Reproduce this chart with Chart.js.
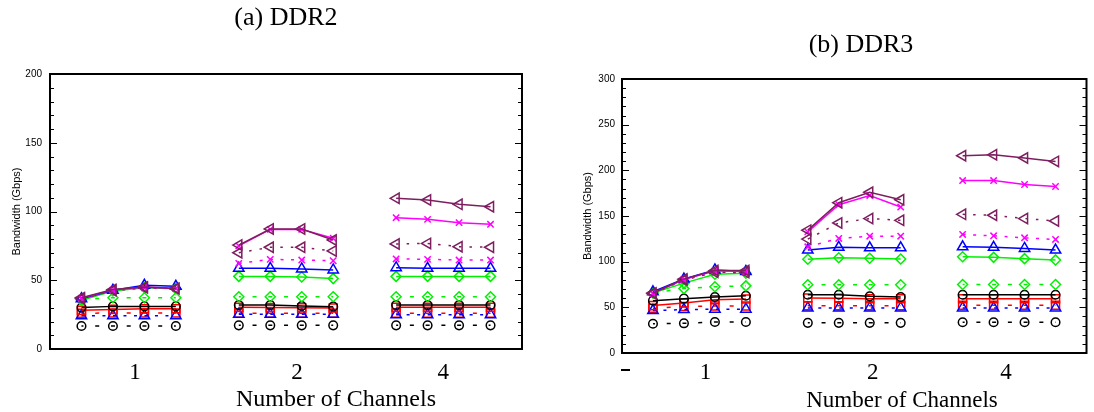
<!DOCTYPE html>
<html>
<head>
<meta charset="utf-8">
<script src="https://cdn.jsdelivr.net/npm/chart.js@4.4.1/dist/chart.umd.min.js"></script>
<style>
  html, body { margin: 0; padding: 0; background: #fff; }
  #wrap { position: relative; width: 1094px; height: 412px; overflow: hidden; }
  .panel { position: absolute; top: 0; width: 547px; height: 412px; }
  .txt { position: absolute; font-family: "Liberation Serif", "Times New Roman", serif; color: #000;
         white-space: nowrap; line-height: 1; transform: translateX(-50%); }
  .dash { position: absolute; background: #000; }
</style>
</head>
<body>
<div id="wrap">
  <div class="panel" style="left:0"><canvas id="ddr2"></canvas></div>
  <div class="panel" style="left:547px"><canvas id="ddr3"></canvas></div>
  <div class="txt" style="left:286px; top:4px; font-size:26px">(a) DDR2</div>
  <div class="txt" style="left:861px; top:31px; font-size:26px">(b) DDR3</div>
  <div class="txt" style="left:336px; top:386px; font-size:24px">Number of Channels</div>
  <div class="txt" style="left:902px; top:388px; font-size:23px">Number of Channels</div>
  <div class="dash" style="left:621px; top:369px; width:9px; height:2px"></div>
</div>
<script>
// Channel groups on the x axis; each group holds four configurations.
const channelLabels = ['1', '2', '4'];
const configsPerGroup = 4;

// DDR2 bandwidth (Gbps): 4 configurations x (1, 2, 4 channels)
const ddr2A1 = [37.3, 43.2, 45.1, 44.0, 75.6, 87.3, 87.3, 79.3, 109.6, 108.4, 105.2, 103.5];
const ddr2B1 = [37.0, 43.0, 45.0, 44.0, 75.0, 87.0, 87.0, 80.5, 95.5, 94.3, 91.9, 90.7];
const ddr2A2 = [36.5, 42.5, 44.5, 44.0, 70.0, 74.0, 74.0, 71.3, 76.4, 76.8, 74.4, 74.0];
const ddr2B2 = [36.5, 42.5, 44.5, 44.0, 62.3, 65.2, 64.7, 64.2, 65.5, 65.2, 64.7, 64.7];
const ddr2C1 = [36.6, 42.7, 46.3, 45.6, 58.7, 58.7, 58.2, 57.5, 59.1, 58.7, 58.7, 58.7];
const ddr2D1 = [35.4, 42.2, 44.6, 43.9, 52.8, 52.8, 52.4, 51.2, 52.8, 52.8, 52.8, 52.8];
const ddr2D2 = [36.0, 37.3, 37.3, 37.3, 38.0, 38.0, 38.0, 38.0, 38.0, 38.0, 38.0, 38.0];
const ddr2E1 = [30.1, 31.0, 31.0, 31.0, 32.0, 32.0, 31.3, 30.8, 32.0, 32.0, 32.0, 32.0];
const ddr2F1 = [28.1, 28.8, 29.3, 29.3, 30.3, 30.2, 30.0, 29.8, 30.3, 30.3, 30.3, 30.3];
const ddr2C2 = [24.2, 24.2, 24.2, 24.2, 25.2, 25.2, 25.2, 25.2, 25.0, 25.0, 25.0, 25.0];
const ddr2F2 = [26.0, 26.2, 26.2, 26.2, 26.0, 26.0, 26.0, 26.0, 26.0, 26.0, 26.0, 26.0];
const ddr2E2 = [16.7, 16.7, 16.7, 16.7, 17.2, 17.2, 17.2, 17.2, 17.2, 17.2, 17.2, 17.2];

// DDR3 bandwidth (Gbps)
const ddr3A1 = [65.7, 80.9, 90.3, 90.3, 134.5, 164.6, 176.0, 167.8, 216.0, 217.0, 213.5, 209.8];
const ddr3B1 = [65.5, 80.5, 90.0, 89.5, 132.6, 162.4, 172.5, 159.8, 188.8, 188.8, 184.5, 182.3];
const ddr3A2 = [65.0, 80.0, 88.5, 88.0, 124.7, 142.4, 147.2, 145.3, 151.8, 150.8, 147.2, 144.6];
const ddr3B2 = [65.0, 80.0, 88.5, 88.0, 116.3, 125.4, 127.9, 127.9, 129.8, 128.3, 126.1, 124.3];
const ddr3C1 = [67.0, 81.0, 91.0, 89.3, 112.7, 115.7, 115.2, 115.2, 116.3, 115.7, 114.5, 112.7];
const ddr3D1 = [65.7, 76.5, 86.3, 87.4, 102.6, 104.3, 103.7, 102.9, 105.4, 104.7, 103.3, 101.9];
const ddr3D2 = [66.0, 70.5, 72.5, 73.5, 74.7, 74.7, 74.7, 74.7, 75.0, 75.0, 75.0, 75.0];
const ddr3E1 = [57.3, 59.5, 61.3, 62.7, 63.8, 63.8, 62.0, 61.3, 63.8, 63.8, 63.8, 63.8];
const ddr3F1 = [51.9, 54.8, 58.4, 59.1, 60.2, 60.0, 59.5, 59.3, 59.5, 59.5, 59.5, 59.5];
const ddr3C2 = [46.5, 47.5, 48.0, 48.0, 49.3, 49.3, 49.3, 49.3, 49.3, 49.3, 49.3, 49.3];
const ddr3F2 = [49.0, 51.0, 51.5, 51.5, 51.8, 51.8, 51.8, 51.8, 52.2, 52.2, 52.2, 52.2];
const ddr3E2 = [32.0, 32.5, 34.0, 34.0, 33.0, 33.0, 33.0, 33.0, 33.7, 33.7, 33.7, 33.7];

const ddr2Series = { A1: ddr2A1, B1: ddr2B1, A2: ddr2A2, B2: ddr2B2, C1: ddr2C1, D1: ddr2D1,
                     D2: ddr2D2, E1: ddr2E1, F1: ddr2F1, C2: ddr2C2, F2: ddr2F2, E2: ddr2E2 };
const ddr3Series = { A1: ddr3A1, B1: ddr3B1, A2: ddr3A2, B2: ddr3B2, C1: ddr3C1, D1: ddr3D1,
                     D2: ddr3D2, E1: ddr3E1, F1: ddr3F1, C2: ddr3C2, F2: ddr3F2, E2: ddr3E2 };

// Line/marker styles; the first entry is drawn on top.
const PURPLE = '#7d1e5e', MAGENTA = '#ff00ff', BLUE = '#0000ff', GREEN = '#00f000', RED = '#ff0000', BLACK = '#000000';
const seriesStyles = [
  { key: 'A1', color: PURPLE,  point: 'triangle', rot: 270, r: 6,   dash: [] },
  { key: 'B1', color: MAGENTA, point: 'crossRot', rot: 0,   r: 4.5, dash: [] },
  { key: 'A2', color: PURPLE,  point: 'triangle', rot: 270, r: 6,   dash: [2.5, 8] },
  { key: 'B2', color: MAGENTA, point: 'crossRot', rot: 0,   r: 4.5, dash: [3, 7.5] },
  { key: 'C1', color: BLUE,    point: 'triangle', rot: 0,   r: 6,   dash: [] },
  { key: 'D1', color: GREEN,   point: 'rectRot',  rot: 0,   r: 5,   dash: [] },
  { key: 'D2', color: GREEN,   point: 'rectRot',  rot: 0,   r: 5,   dash: [4, 11.75], off: 2 },
  { key: 'E1', color: BLACK,   point: 'circle',   rot: 0,   r: 4.3, dash: [] },
  { key: 'F1', color: RED,     point: 'rect',     rot: 0,   r: 5.7, dash: [] },
  { key: 'C2', color: BLUE,    point: 'triangle', rot: 0,   r: 6,   dash: [3, 7.5] },
  { key: 'F2', color: RED,     point: 'rect',     rot: 0,   r: 5.7, dash: [4, 11.75], off: 2 },
  { key: 'E2', color: BLACK,   point: 'circle',   rot: 0,   r: 4.3, dash: [4, 11.75], off: 2 }
];

// Place each configuration on a linear x axis, leaving an empty slot between channel groups.
function toPoints(values) {
  const pts = [];
  values.forEach((v, i) => {
    const g = Math.floor(i / configsPerGroup), k = i % configsPerGroup;
    const base = g * (configsPerGroup + 1);
    if (k === 0 && g > 0) pts.push({ x: base - 1, y: null });
    pts.push({ x: base + k, y: v });
  });
  return pts;
}

// Closed frame plus inward major/minor ticks on both vertical sides.
const frameTicks = {
  id: 'frameTicks',
  afterDatasetsDraw(chart) {
    const { ctx, chartArea: a, scales: { y } } = chart;
    ctx.save();
    ctx.strokeStyle = '#000';
    ctx.lineWidth = 1;
    ctx.beginPath();
    for (let v = y.min; v <= y.max; v += 10) {
      const py = Math.round(y.getPixelForValue(v)) + 0.5;
      const len = v % 50 === 0 ? 7 : 4;
      ctx.moveTo(a.left, py); ctx.lineTo(a.left + len, py);
      ctx.moveTo(a.right, py); ctx.lineTo(a.right - len, py);
    }
    ctx.stroke();
    ctx.lineWidth = 2;
    ctx.strokeRect(a.left, a.top, a.right - a.left, a.bottom - a.top);
    ctx.restore();
  }
};

function makeChart(id, series, yMax, cfg) {
  return new Chart(document.getElementById(id), {
    type: 'line',
    data: {
      datasets: seriesStyles.map(s => ({
        data: toPoints(series[s.key]),
        borderColor: s.color,
        backgroundColor: 'rgba(0,0,0,0)',
        borderWidth: 1.5,
        borderDash: s.dash,
        borderDashOffset: s.off || 0,
        pointStyle: s.point,
        rotation: s.rot,
        pointRadius: s.r,
        pointBorderWidth: 1.5,
        pointBorderColor: s.color,
        pointBackgroundColor: 'rgba(0,0,0,0)',
        tension: 0,
        spanGaps: false,
        fill: false
      }))
    },
    options: {
      responsive: true,
      maintainAspectRatio: false,
      animation: false,
      events: [],
      layout: { padding: cfg.padding },
      plugins: { legend: { display: false }, tooltip: { enabled: false } },
      scales: {
        x: {
          type: 'linear', min: -1, max: 14,
          grid: { display: false, drawTicks: false }, border: { display: false },
          afterBuildTicks: sc => { sc.ticks = cfg.labelAt.map(v => ({ value: v })); },
          afterFit: sc => { sc.height = 50; },
          ticks: {
            autoSkip: false, maxRotation: 0, padding: cfg.xPad, color: '#000',
            font: { family: '"Liberation Serif", "Times New Roman", serif', size: 23 },
            callback: (v, i) => channelLabels[i]
          }
        },
        y: {
          min: 0, max: yMax,
          grid: { display: false, drawTicks: false }, border: { display: false },
          afterFit: sc => { sc.width = cfg.yWidth; },
          ticks: {
            stepSize: 50, padding: cfg.yPad, color: '#000',
            font: { family: '"Liberation Sans", Arial, sans-serif', size: 10 }
          },
          title: {
            display: true, text: 'Bandwidth (Gbps)', color: '#000',
            font: { family: '"Liberation Sans", Arial, sans-serif', size: 11 },
            padding: { top: cfg.titlePad, bottom: 0 }
          }
        }
      }
    },
    plugins: [frameTicks]
  });
}

makeChart('ddr2', ddr2Series, 200, {
  padding: { left: 0, right: 25, top: 74, bottom: 13 },
  yWidth: 50, yPad: 8, xPad: 10, titlePad: 10,
  labelAt: [1.7, 6.85, 11.5]
});
makeChart('ddr3', ddr3Series, 300, {
  padding: { left: 25, right: 3, top: 79, bottom: 9 },
  yWidth: 50, yPad: 7, xPad: 6, titlePad: 9.4,
  labelAt: [1.7, 7.1, 11.4]
});
</script>
</body>
</html>
